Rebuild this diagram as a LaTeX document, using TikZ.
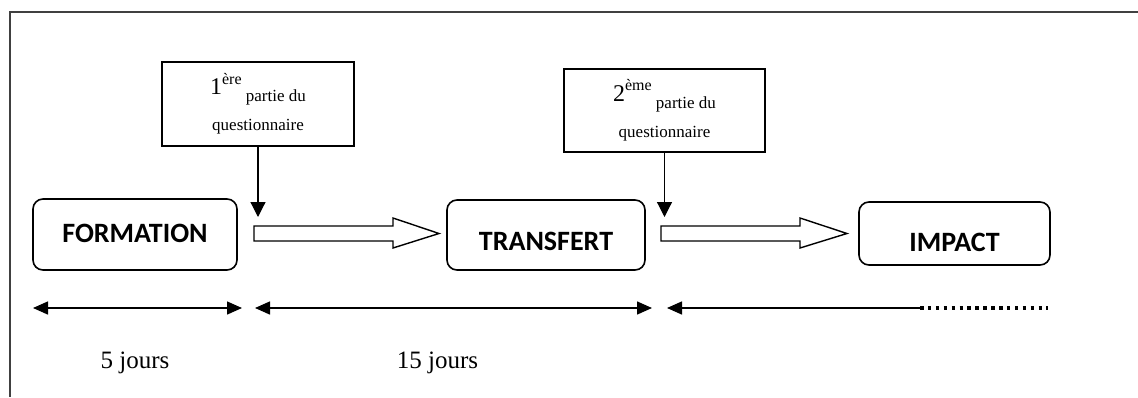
\documentclass[tikz,border=0pt]{standalone}
\usepackage{fontspec}
\setmainfont{Liberation Serif}
\newfontfamily\calibri{Carlito}
\usepackage{tikz}
\usetikzlibrary{arrows.meta}
\usetikzlibrary{positioning,calc}

\begin{document}
\begin{tikzpicture}[x=1pt,y=-1pt,
    stage/.style={draw, line width=1.6pt, rounded corners=10pt, inner sep=0pt, font=\calibri\bfseries\fontsize{28}{28}\selectfont},
    qbox/.style={draw, line width=1.2pt, inner sep=0pt, align=center, font=\fontsize{17}{36}\selectfont},
    drop/.style={line width=1.2pt, -{Triangle[length=15pt,width=15pt]}},
    flow/.style={draw, line width=1.4pt, fill=white, line join=miter},
    duration/.style={line width=1.5pt, {Triangle[length=15pt,width=13pt]}-{Triangle[length=15pt,width=13pt]}},
    days/.style={anchor=base, font=\fontsize{25}{25}\selectfont}]
    \useasboundingbox (0,0) rectangle (1138,397);

    % Draw the frame
    \draw[black!75, line width=1.4pt] (1138,12) -- (10,12) -- (10,397);

    % The three stages
    \node[stage, minimum width=204pt, minimum height=71pt, text height=18pt, text depth=3pt] (formation) at (135,234.5) {FORMATION};
    \node[stage, minimum width=198pt, minimum height=70pt, text height=30pt, text depth=0pt] (transfert) at (546,235) {TRANSFERT};
    \node[stage, minimum width=191pt, minimum height=63pt, text height=35pt, text depth=0pt] (impact) at (954.5,233.5) {IMPACT};

    % Label the two parts of the questionnaire
    \node[qbox, minimum width=192pt, minimum height=84pt] (q1) at (258,104)
        {{\fontsize{24}{24}\selectfont 1}\raisebox{10pt}{\fontsize{16}{16}\selectfont ère} \raisebox{-7pt}{partie du}\\questionnaire};
    \node[qbox, minimum width=201pt, minimum height=83pt] (q2) at (664.5,110.5)
        {{\fontsize{24}{24}\selectfont 2}\raisebox{11pt}{\fontsize{16}{16}\selectfont ème} \raisebox{-7pt}{partie du}\\questionnaire};
    \coordinate (t1) at (258,217);
    \coordinate (t2) at (664.5,217);
    \draw[drop] (q1) -- (t1);
    \draw[drop] (q2) -- (t2);

    % Block arrows between the stages
    \draw[flow] (254,226) -- (393,226) -- (393,218) -- (439,233.5) -- (393,248) -- (393,241) -- (254,241) -- cycle;
    \draw[flow] (661,226) -- (800,226) -- (800,218) -- (847,233.5) -- (800,248) -- (800,241) -- (661,241) -- cycle;

    % Durations
    \coordinate (d1a) at (33,308);
    \coordinate (d1b) at (242,308);
    \coordinate (d2a) at (255,308);
    \coordinate (d2b) at (652,308);
    \coordinate (d3a) at (667,308);
    \coordinate (d3b) at (920,308);
    \coordinate (d3c) at (1048,308);
    \draw[duration] (d1a) -- (d1b);
    \draw[duration] (d2a) -- (d2b);
    \draw[line width=1.5pt, {Triangle[length=15pt,width=13pt]}-] (d3a) -- (d3b);
    \draw[line width=3.5pt, dash pattern=on 3.5pt off 4.4pt] (d3b) -- (d3c);

    \node[days] (five) at (135,368) {5 jours};
    \node[days] (fifteen) at (437.5,368) {15 jours};

\end{tikzpicture}
\end{document}
